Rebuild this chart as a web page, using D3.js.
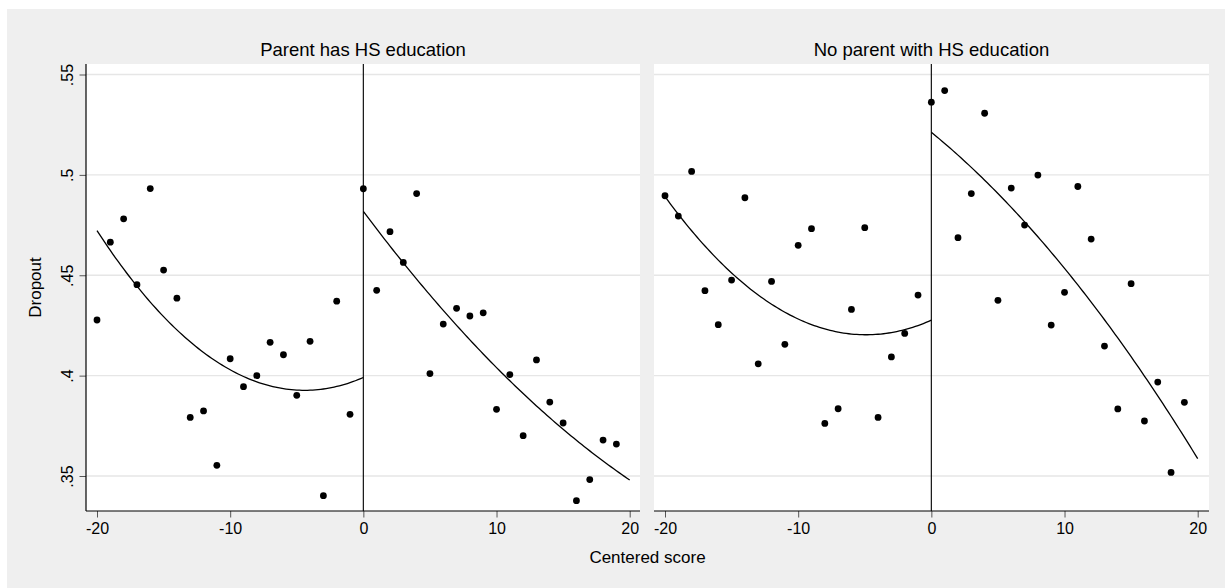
<!DOCTYPE html>
<html>
<head>
<meta charset="utf-8">
<script src="https://cdn.jsdelivr.net/npm/d3@7"></script>
<style>
  html, body { margin: 0; padding: 0; background: #ffffff; }
  svg { display: block; }
  text { font-family: "Liberation Sans", Arial, Helvetica, sans-serif; fill: #000; }
</style>
</head>
<body>
<svg id="chart" width="1225" height="588"></svg>
<script>
// Centered test score (running variable)
const scores = [-20,-19,-18,-17,-16,-15,-14,-13,-12,-11,-10,-9,-8,-7,-6,-5,-4,-3,-2,-1,
                0,1,2,3,4,5,6,7,8,9,10,11,12,13,14,15,16,17,18,19];

// Mean dropout rate by score: parent has HS education
const dropoutHS = [0.4277,0.4665,0.4781,0.4453,0.4932,0.4526,0.4386,0.3792,0.3824,0.3553,
                   0.4084,0.3945,0.4000,0.4166,0.4104,0.3902,0.4171,0.3402,0.4371,0.3807,
                   0.4931,0.4425,0.4717,0.4564,0.4907,0.4010,0.4257,0.4335,0.4297,0.4313,
                   0.3832,0.4005,0.3701,0.4078,0.3868,0.3764,0.3377,0.3482,0.3679,0.3659];

// Mean dropout rate by score: no parent with HS education
const dropoutNoHS = [0.4896,0.4795,0.5017,0.4423,0.4254,0.4476,0.4886,0.4059,0.4469,0.4156,
                     0.4649,0.4732,0.3762,0.3835,0.4330,0.4737,0.3792,0.4093,0.4210,0.4401,
                     0.5362,0.5420,0.4687,0.4907,0.5307,0.4375,0.4934,0.4750,0.4999,0.4252,
                     0.4415,0.4942,0.4680,0.4147,0.3834,0.4458,0.3774,0.3968,0.3518,0.3867];

const panelTitles = ["Parent has HS education", "No parent with HS education"];
const xTicks = [-20, -10, 0, 10, 20];
const xTickLabels = ["-20", "-10", "0", "10", "20"];
const yTicks = [0.35, 0.40, 0.45, 0.50, 0.55];
const yTickLabels = [".35", ".4", ".45", ".5", ".55"];
const xTitle = "Centered score";
const yTitle = "Dropout";

// ---- layout ----
const W = 1225, H = 588;
const plotTop = 64, plotBottom = 511;
const panels = [
  { left: 86,  right: 640,  x0: 97,  x1: 629.7, values: dropoutHS,   title: panelTitles[0], yAxis: true },
  { left: 654, right: 1209, x0: 665, x1: 1197.7, values: dropoutNoHS, title: panelTitles[1], yAxis: false }
];

const svg = d3.select("#chart");

// outer graph region
svg.append("rect").attr("x", 7).attr("y", 9).attr("width", W - 7).attr("height", H - 9)
  .attr("fill", "#efefef");

const y = d3.scaleLinear().domain([0.35, 0.55]).range([476, 74.5]);

// quadratic least-squares fit y = a + b x + c x^2
function quadFit(xs, ys) {
  const n = xs.length;
  let s = [0,0,0,0,0], t = [0,0,0];
  for (let i = 0; i < n; i++) {
    const x = xs[i], v = ys[i];
    let p = 1;
    for (let k = 0; k < 5; k++) { s[k] += p; if (k < 3) t[k] += p * v; p *= x; }
  }
  const M = [[s[0], s[1], s[2], t[0]], [s[1], s[2], s[3], t[1]], [s[2], s[3], s[4], t[2]]];
  for (let i = 0; i < 3; i++) {
    let piv = i;
    for (let r = i + 1; r < 3; r++) if (Math.abs(M[r][i]) > Math.abs(M[piv][i])) piv = r;
    [M[i], M[piv]] = [M[piv], M[i]];
    for (let r = 0; r < 3; r++) {
      if (r === i) continue;
      const f = M[r][i] / M[i][i];
      for (let c = i; c < 4; c++) M[r][c] -= f * M[i][c];
    }
  }
  const coef = [M[0][3] / M[0][0], M[1][3] / M[1][1], M[2][3] / M[2][2]];
  return x => coef[0] + coef[1] * x + coef[2] * x * x;
}

panels.forEach(p => {
  const x = d3.scaleLinear().domain([-20, 20]).range([p.x0, p.x1]);
  const g = svg.append("g");

  // plot region
  g.append("rect").attr("x", p.left).attr("y", plotTop)
    .attr("width", p.right - p.left).attr("height", plotBottom - plotTop)
    .attr("fill", "#ffffff");

  // horizontal grid
  g.selectAll("line.grid").data(yTicks).enter().append("line")
    .attr("x1", p.left).attr("x2", p.right)
    .attr("y1", d => y(d)).attr("y2", d => y(d))
    .attr("stroke", "#e6e6e6").attr("stroke-width", 1.3);

  // cutoff line
  g.append("line").attr("x1", x(0)).attr("x2", x(0))
    .attr("y1", plotTop).attr("y2", plotBottom)
    .attr("stroke", "#111").attr("stroke-width", 1.2);

  // fitted curves on each side of the cutoff
  const below = scores.map((s, i) => [s, p.values[i]]).filter(d => d[0] < 0);
  const above = scores.map((s, i) => [s, p.values[i]]).filter(d => d[0] >= 0);
  const line = d3.line().x(d => x(d[0])).y(d => y(d[1]));
  [[below, -20, 0], [above, 0, 20]].forEach(([pts, a, b]) => {
    const f = quadFit(pts.map(d => d[0]), pts.map(d => d[1]));
    const curve = d3.range(0, 101).map(k => { const xv = a + (b - a) * k / 100; return [xv, f(xv)]; });
    g.append("path").attr("d", line(curve)).attr("fill", "none")
      .attr("stroke", "#000").attr("stroke-width", 1.3);
  });

  // binned means
  g.selectAll("circle").data(scores).enter().append("circle")
    .attr("cx", d => x(d)).attr("cy", (d, i) => y(p.values[i]))
    .attr("r", 3.4).attr("fill", "#000");

  // x axis
  const xa = g.append("g").attr("transform", `translate(0,${plotBottom})`)
    .call(d3.axisBottom(x).tickValues(xTicks).tickSize(6.5).tickPadding(5)
      .tickFormat((d, i) => xTickLabels[i]));
  xa.select(".domain").remove();
  xa.selectAll(".tick line").attr("stroke", "#555");
  xa.selectAll(".tick text").attr("font-size", 16)
    .attr("font-family", "Liberation Sans, Arial, sans-serif").attr("fill", "#000");
  g.append("line").attr("x1", p.left).attr("x2", p.right)
    .attr("y1", plotBottom).attr("y2", plotBottom).attr("stroke", "#000").attr("stroke-width", 1.2);

  if (p.yAxis) {
    const ya = g.append("g").attr("transform", `translate(${p.left},0)`)
      .call(d3.axisLeft(y).tickValues(yTicks).tickSize(6.5).tickFormat((d, i) => yTickLabels[i]));
    ya.select(".domain").remove();
    ya.selectAll(".tick line").attr("stroke", "#555");
    ya.selectAll(".tick text")
      .attr("font-size", 16).attr("font-family", "Liberation Sans, Arial, sans-serif").attr("fill", "#000")
      .attr("x", null).attr("dy", null)
      .attr("text-anchor", "middle")
      .attr("transform", "translate(-13,0) rotate(-90)");
    g.append("line").attr("x1", p.left).attr("x2", p.left)
      .attr("y1", plotTop).attr("y2", plotBottom).attr("stroke", "#000").attr("stroke-width", 1.2);
  }

  // panel title
  g.append("text").attr("x", (p.left + p.right) / 2).attr("y", 56)
    .attr("text-anchor", "middle").attr("font-size", 18.5).text(p.title);
});

// axis titles
svg.append("text").attr("x", (86 + 1209) / 2).attr("y", 563)
  .attr("text-anchor", "middle").attr("font-size", 17).text(xTitle);
svg.append("text").attr("transform", `translate(41,${(plotTop + plotBottom) / 2}) rotate(-90)`)
  .attr("text-anchor", "middle").attr("font-size", 17).text(yTitle);
</script>
</body>
</html>
